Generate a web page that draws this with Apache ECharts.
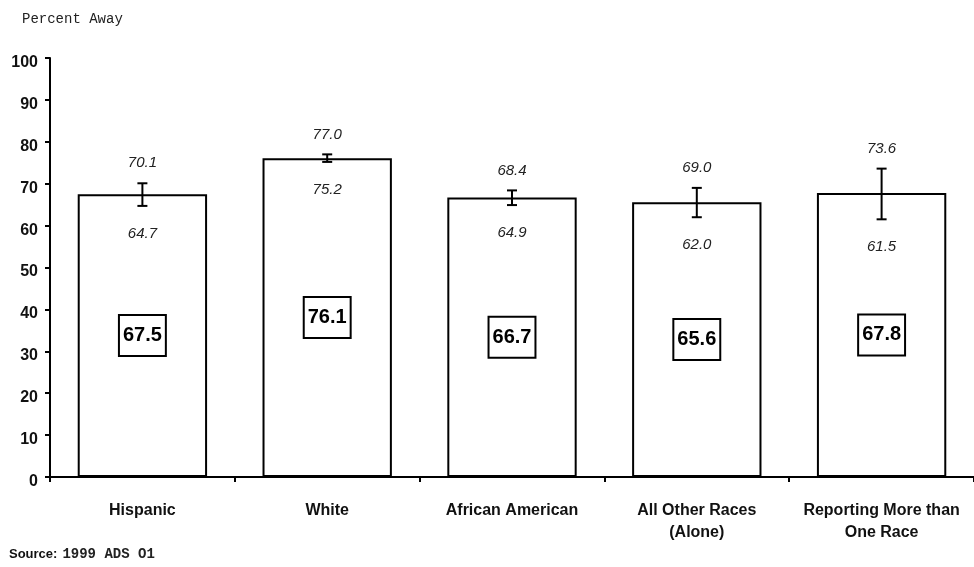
<!DOCTYPE html>
<html>
<head>
<meta charset="utf-8">
<script src="https://cdn.jsdelivr.net/npm/echarts@6/dist/echarts.min.js"></script>
<style>
html,body{margin:0;padding:0;background:#fff;}
#main{width:974px;height:567px;}
</style>
</head>
<body>
<div id="main"></div>
<script>
const categories = ['Hispanic', 'White', 'African American', 'All Other Races\n(Alone)', 'Reporting More than\nOne Race'];
const estimates = [67.5, 76.1, 66.7, 65.6, 67.8];
const lowerBounds = [64.7, 75.2, 64.9, 62.0, 61.5];
const upperBounds = [70.1, 77.0, 68.4, 69.0, 73.6];
const yTicks = [0, 10, 20, 30, 40, 50, 60, 70, 80, 90, 100];

const chart = echarts.init(document.getElementById('main'), null, {renderer: 'canvas'});

const errData = categories.map((c, i) => [i, lowerBounds[i], upperBounds[i]]);

const option = {
  backgroundColor: '#fff',
  animation: false,
  title: [
    {text: 'Percent Away', left: 17, top: 7,
     textStyle: {fontFamily: 'Liberation Mono', fontSize: 14, fontWeight: 'normal', color: '#222'}},
    {text: '{b|Source:} {m|1999 ADS O1}', left: 4, top: 540,
     textStyle: {rich: {
       b: {fontFamily: 'Liberation Sans', fontWeight: 'bold', fontSize: 13, color: '#111'},
       m: {fontFamily: 'Liberation Mono', fontSize: 14, color: '#222'}
     }}}
  ],
  grid: {left: 50, top: 58, bottom: 90, width: 928, containLabel: false},
  xAxis: {
    type: 'category',
    data: categories,
    boundaryGap: true,
    axisLine: {lineStyle: {color: '#000', width: 2}},
    axisTick: {show: true, length: 5, inside: false, lineStyle: {color: '#000', width: 2}},
    axisLabel: {color: '#111', fontFamily: 'Liberation Sans', fontWeight: 'bold', fontSize: 16,
                lineHeight: 22, margin: 23, interval: 0},
    splitLine: {show: false}
  },
  yAxis: {
    type: 'value',
    min: yTicks[0], max: yTicks[yTicks.length - 1], interval: 10,
    axisLine: {show: true, lineStyle: {color: '#000', width: 2}},
    axisTick: {show: true, length: 5, lineStyle: {color: '#000', width: 2}},
    axisLabel: {color: '#111', fontFamily: 'Liberation Sans', fontWeight: 'bold', fontSize: 16,
                margin: 12, verticalAlign: 'top', lineHeight: 9},
    splitLine: {show: false}
  },
  series: [
    {
      type: 'bar',
      data: estimates,
      barWidth: '70%',
      itemStyle: {color: '#fff', borderColor: '#000', borderWidth: 2},
      label: {
        show: true, position: 'inside',
        fontFamily: 'Liberation Sans', fontWeight: 'bold', fontSize: 20, color: '#000',
        borderColor: '#000', borderWidth: 2, padding: [10, 3, 9, 3], backgroundColor: '#fff',
        formatter: p => p.value.toFixed(1)
      },
      z: 2
    },
    {
      type: 'custom',
      data: errData,
      z: 5,
      renderItem: function (params, api) {
        const x = api.value(0);
        const lo = api.coord([x, api.value(1)]);
        const hi = api.coord([x, api.value(2)]);
        const cap = 5;
        const style = {stroke: '#000', lineWidth: 2};
        return {
          type: 'group',
          children: [
            {type: 'line', shape: {x1: lo[0], y1: lo[1], x2: hi[0], y2: hi[1]}, style},
            {type: 'line', shape: {x1: hi[0] - cap, y1: hi[1], x2: hi[0] + cap, y2: hi[1]}, style},
            {type: 'line', shape: {x1: lo[0] - cap, y1: lo[1], x2: lo[0] + cap, y2: lo[1]}, style},
            {type: 'text', x: hi[0], y: hi[1] - 20,
             style: {text: api.value(2).toFixed(1), align: 'center', verticalAlign: 'middle',
                     font: 'italic 15px "Liberation Sans"', fill: '#222'}},
            {type: 'text', x: lo[0], y: lo[1] + 28,
             style: {text: api.value(1).toFixed(1), align: 'center', verticalAlign: 'middle',
                     font: 'italic 15px "Liberation Sans"', fill: '#222'}}
          ]
        };
      }
    }
  ]
};
chart.setOption(option);
</script>
</body>
</html>
